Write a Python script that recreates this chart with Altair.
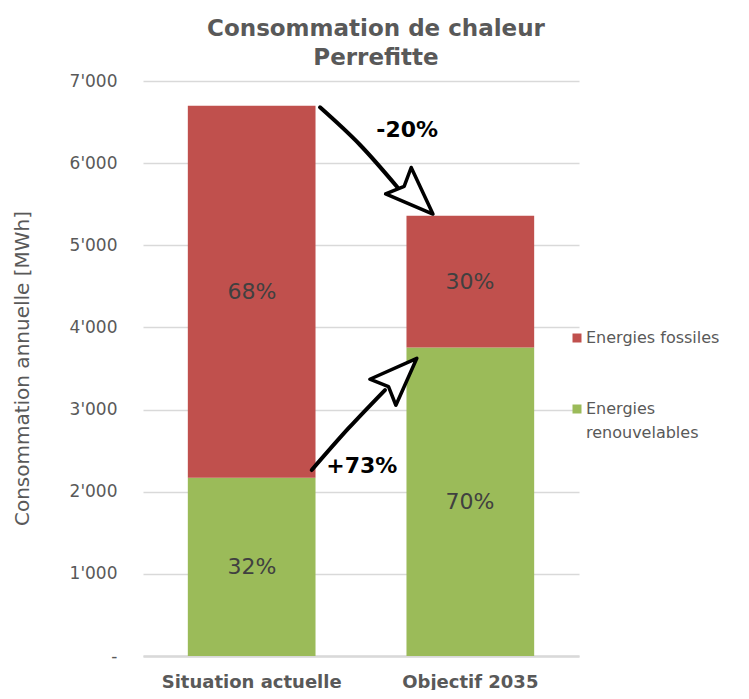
import altair as alt
import pandas as pd

# ---------------- data ----------------
categories = ["Situation actuelle", "Objectif 2035"]
series = ["Energies fossiles", "Energies renouvelables"]
colors = ["#C0504D", "#9BBB59"]
renouvelables = [2170, 3755]
fossiles = [4530, 1605]
y_ticks = [0, 1000, 2000, 3000, 4000, 5000, 6000, 7000]

# annotation arrows: x as fraction of the plot width, y in MWh
arrow_names = ["baisse", "hausse"]
arrow_path_x = [[0.406, 0.498, 0.585], [0.387, 0.472, 0.555]]
arrow_path_y = [[6680, 6221, 5698], [2264, 2776, 3238]]
arrow_tip_x = [0.665, 0.628]
arrow_tip_y = [5380, 3624]
arrow_head_angle = [134, 45]
arrow_text_x = [0.606, 0.502]
arrow_text_y = [6400, 2310]

# ---------------- layout constants ----------------
W, H = 436, 575
YMAX = 7000
FONT = "DejaVu Sans"
GREY = "#595959"

totals = [r + f for r, f in zip(renouvelables, fossiles)]
arrow_text = [
    f"{round((totals[1] / totals[0] - 1) * 100):+d}%",
    f"{round((renouvelables[1] / renouvelables[0] - 1) * 100):+d}%",
]

rows = []
labels = []
for i, c in enumerate(categories):
    r, f, t = renouvelables[i], fossiles[i], totals[i]
    rows.append(dict(cat=c, series=series[1], value=r, ord=0))
    rows.append(dict(cat=c, series=series[0], value=f, ord=1))
    labels.append(dict(cat=c, value=r / 2, txt=f"{round(r / t * 100)}%"))
    labels.append(dict(cat=c, value=r + f / 2, txt=f"{round(f / t * 100)}%"))
df_bars = pd.DataFrame(rows)
df_labels = pd.DataFrame(labels)

path_rows, head_rows, text_rows = [], [], []
for k, name in enumerate(arrow_names):
    for j, (px, py) in enumerate(zip(arrow_path_x[k], arrow_path_y[k])):
        path_rows.append(dict(arrow=name, i=j, x=px, value=py))
    head_rows.append(dict(arrow=name, x=arrow_tip_x[k], value=arrow_tip_y[k],
                          ang=arrow_head_angle[k]))
    text_rows.append(dict(arrow=name, x=arrow_text_x[k], value=arrow_text_y[k],
                          txt=arrow_text[k]))
df_path = pd.DataFrame(path_rows)
df_head = pd.DataFrame(head_rows)
df_text = pd.DataFrame(text_rows)

# ---------------- scales / axes ----------------
xband = alt.Scale(domain=categories, paddingInner=0.416, paddingOuter=0.205)
yscale = alt.Scale(domain=[0, YMAX], nice=False, zero=True)
xfrac = alt.Scale(domain=[0, 1], nice=False, zero=False)

y_label_expr = (
    "datum.value == 0 ? '-\u00a0\u00a0\u00a0' : "
    "replace(format(datum.value, ','), ',', \"'\")"
)
Y_TITLE = "Consommation annuelle [MWh]"
y_axis = alt.Axis(
    values=y_ticks, labelExpr=y_label_expr,
    title=Y_TITLE, titleFont=FONT,
    titleFontSize=20, titleFontWeight="normal", titleColor=GREY,
    titleAngle=270, titleAlign="center", titleBaseline="middle",
    titleX=-121, titleY=287,
    labelFont=FONT, labelFontSize=17, labelColor=GREY, labelPadding=26,
    ticks=False, domain=False, grid=True, gridColor="#D9D9D9", gridWidth=1.5,
)


def Y():
    return alt.Y("value:Q", scale=yscale, axis=y_axis, title=Y_TITLE)


bars = alt.Chart(df_bars).mark_bar().encode(
    x=alt.X(
        "cat:N", sort=categories, scale=xband,
        axis=alt.Axis(
            title=None, labelAngle=0, labelFont=FONT, labelFontWeight="bold",
            labelFontSize=18, labelColor=GREY, labelPadding=31,
            labelBaseline="alphabetic", ticks=False, tickSize=0,
            domainColor="#D9D9D9", domainWidth=2.5, grid=False,
        ),
    ),
    y=alt.Y("value:Q", stack="zero", scale=yscale, axis=y_axis, title=Y_TITLE),
    color=alt.Color(
        "series:N", scale=alt.Scale(domain=series, range=colors),
        legend=alt.Legend(
            title=None, orient="none", legendX=426, legendY=249,
            symbolType="square", symbolSize=81, symbolStrokeWidth=0,
            labelFont=FONT, labelFontSize=16, labelColor=GREY, labelOffset=1,
            labelLimit=400, rowPadding=55,
            labelExpr="indexof(datum.label, 'renouvelables') >= 0 ? split(datum.label, ' ') : datum.label",
        ),
    ),
    order=alt.Order("ord:Q"),
)

bar_text = alt.Chart(df_labels).mark_text(
    font=FONT, fontSize=22, color="#404040"
).encode(
    x=alt.X("cat:N", sort=categories, scale=xband, axis=None),
    y=Y(),
    text="txt:N",
)

arrow_lines = alt.Chart(df_path).mark_line(
    color="black", strokeWidth=4, interpolate="monotone", strokeCap="round"
).encode(
    x=alt.X("x:Q", scale=xfrac, axis=None),
    y=Y(),
    detail="arrow:N",
    order="i:Q",
)

arrow_heads = alt.Chart(df_head).mark_point(
    shape="M0,0L0.92,2.4L0,2.0L-0.92,2.4Z", size=1600, filled=True,
    fill="white", stroke="black", strokeWidth=3.5, opacity=1,
    strokeJoin="round",
).encode(
    x=alt.X("x:Q", scale=xfrac, axis=None),
    y=Y(),
    angle=alt.Angle("ang:Q", scale=None),
)

arrow_texts = alt.Chart(df_text).mark_text(
    font=FONT, fontSize=22, fontWeight="bold", color="black"
).encode(
    x=alt.X("x:Q", scale=xfrac, axis=None),
    y=Y(),
    text="txt:N",
)

chart = (
    alt.layer(bars, bar_text, arrow_lines, arrow_heads, arrow_texts)
    .resolve_scale(x="independent")
    .properties(
        width=W, height=H,
        title=alt.TitleParams(
            text=["Consommation de chaleur", "Perrefitte"], font=FONT,
            fontSize=23, fontWeight="bold", color=GREY, anchor="middle",
            dx=15, offset=2, lineHeight=29,
        ),
        autosize=alt.AutoSizeParams(type="none"),
        padding={"left": 135, "top": 73, "right": 162, "bottom": 34},
    )
    .configure(style={"guide-label": {"lineHeight": 24}})
    .configure_view(stroke=None)
)

chart.save("out.html", embed_options={"renderer": "svg", "actions": False})
